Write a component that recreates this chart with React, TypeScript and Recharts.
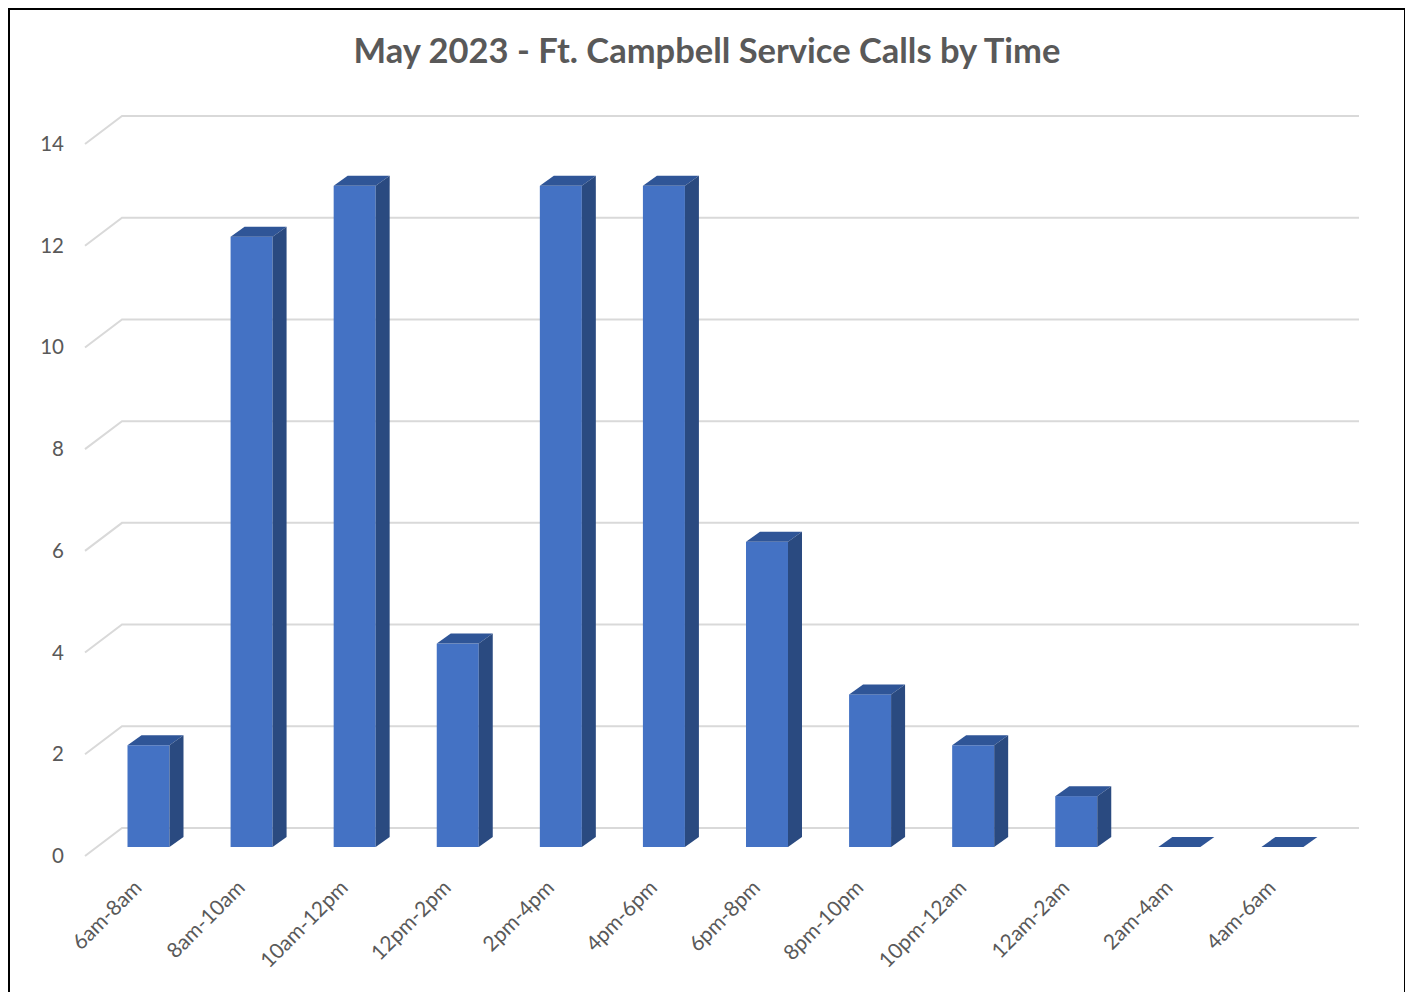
import { BarChart, Bar, XAxis, YAxis, CartesianGrid } from "recharts";

// time slots and number of calls
const slots = ["6am-8am", "8am-10am", "10am-12pm", "12pm-2pm", "2pm-4pm", "4pm-6pm", "6pm-8pm", "8pm-10pm", "10pm-12am", "12am-2am", "2am-4am", "4am-6am"];
const calls = [2, 12, 13, 4, 13, 13, 6, 3, 2, 1, 0, 0];
const yTicks = [0, 2, 4, 6, 8, 10, 12, 14];

const chartData = slots.map((slot, i) => ({ slot, calls: calls[i] }));

// fake 3d: floor depth and bar depth offsets
const FLOOR_DX = 18.5;
const FLOOR_DY = 14;
const BAR_DX = 7;
const BAR_DY = 5;

const FRONT = "#4472C4";
const TOP = "#2F5597";
const SIDE = "#2A4A80";
const TEXT = "#595959";

const Bar3D = (props: any) => {
    const { x, y, width, height } = props;
    const w = width;
    const h = height || 0;
    const fx = x - BAR_DX;
    const fy = y + BAR_DY;
    return (
        <g>
            <rect x={fx} y={fy} width={w} height={h} fill={FRONT} />
            <polygon
                points={`${fx},${fy} ${fx + w},${fy} ${x + w + BAR_DX},${y - BAR_DY} ${x + BAR_DX},${y - BAR_DY}`}
                fill={TOP}
            />
            <polygon
                points={`${fx + w},${fy} ${x + w + BAR_DX},${y - BAR_DY} ${x + w + BAR_DX},${y + h - BAR_DY} ${fx + w},${fy + h}`}
                fill={SIDE}
            />
        </g>
    );
};

const GridLine3D = (props: any) => {
    const { x1, y1, x2, y2 } = props;
    return (
        <polyline
            key={props.key}
            points={`${x1 - FLOOR_DX},${y1 + FLOOR_DY} ${x1 + FLOOR_DX},${y1 - FLOOR_DY} ${x2 + FLOOR_DX},${y2 - FLOOR_DY}`}
            fill="none"
            stroke="#D9D9D9"
            strokeWidth={2}
        />
    );
};

const YTick = (props: any) => {
    const { y, payload } = props;
    return (
        <text x={54} y={y + FLOOR_DY} dy={7} textAnchor="end" fill={TEXT} fontSize={20.5} fontFamily="Lato">
            {payload.value}
        </text>
    );
};

const XTick = (props: any) => {
    const { x, payload } = props;
    const ax = x - 12;
    const ay = 879;
    return (
        <text x={ax} y={ay} textAnchor="end" transform={`rotate(-45 ${ax} ${ay})`} fill={TEXT} fontSize={21} fontFamily="Lato">
            {payload.value}
        </text>
    );
};

export default function App() {
    return (
        <div style={{ position: "relative", width: 1394, height: 1000, border: "2px solid #000", background: "#fff" }}>
            <div
                style={{
                    position: "absolute",
                    top: 19,
                    left: 0,
                    width: 1394,
                    textAlign: "center",
                    fontFamily: "Lato",
                    fontWeight: 700,
                    fontSize: 34.5,
                    color: TEXT,
                }}
            >
                May 2023 - Ft. Campbell Service Calls by Time
            </div>
            <BarChart
                width={1394}
                height={1000}
                data={chartData}
                margin={{ top: 120, right: 63.5, bottom: 108, left: 0 }}
                barCategoryGap={0}
            >
                <CartesianGrid vertical={false} horizontal={GridLine3D} />
                <XAxis dataKey="slot" axisLine={false} tickLine={false} interval={0} tick={<XTick />} height={60} />
                <YAxis
                    domain={[0, 14]}
                    ticks={yTicks}
                    axisLine={false}
                    tickLine={false}
                    width={93.5}
                    tick={<YTick />}
                />
                <Bar dataKey="calls" barSize={42} shape={<Bar3D />} isAnimationActive={false} />
            </BarChart>
        </div>
    );
}
